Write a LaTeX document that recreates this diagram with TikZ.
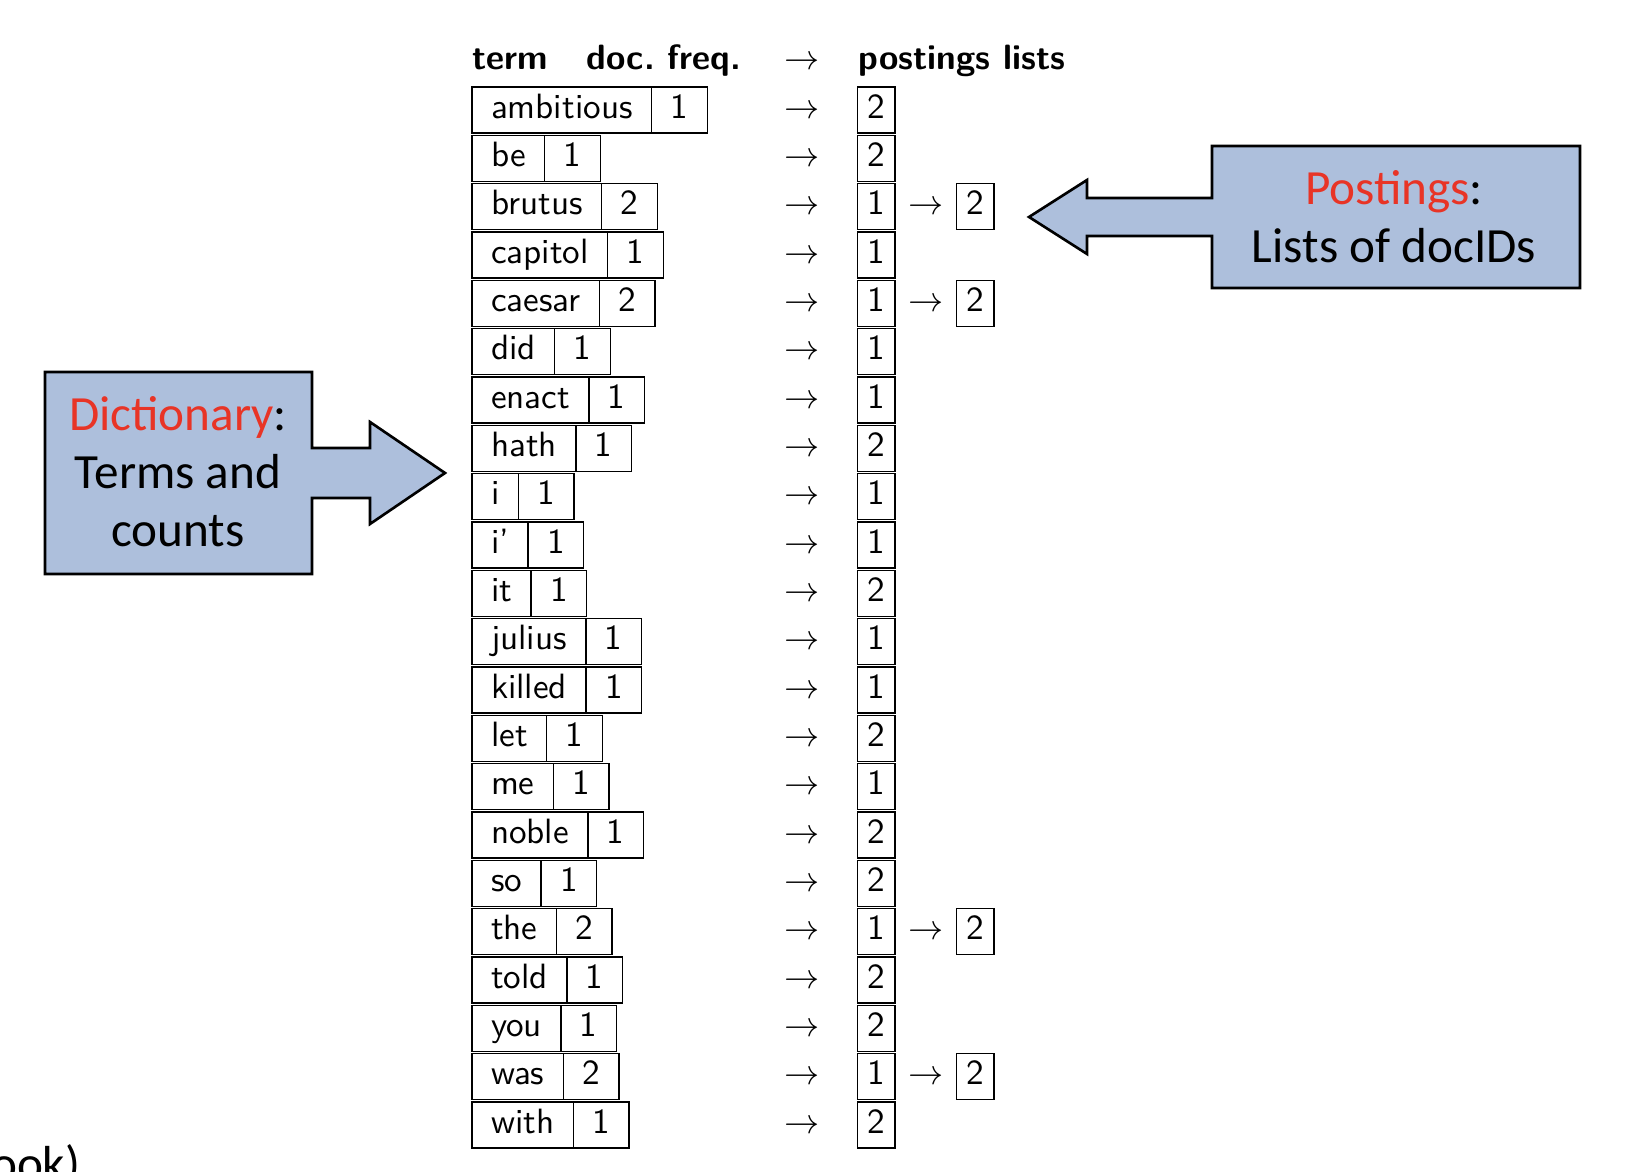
\documentclass[tikz,border=0pt]{standalone}
\usepackage{fontspec}
\newfontfamily\calloutfont{Carlito}
\usetikzlibrary{positioning}
\definecolor{calloutblue}{RGB}{173,191,220}
\definecolor{calloutred}{RGB}{232,52,38}

\begin{document}
\begin{tikzpicture}[x=0.1mm, y=-0.1mm, font=\sffamily,
	cell/.style={inner xsep=1.9mm, inner ysep=0pt, outer sep=0pt, minimum height=4.6mm, text height=6.9pt, text depth=2.2pt},
	term node/.style={cell, draw, line width=0.4pt, anchor=west},
	freq node/.style={cell, draw, line width=0.4pt},
	arrow node/.style={cell, inner xsep=0pt},
	post node/.style={cell, draw, line width=0.4pt, inner xsep=1mm},
	head node/.style={inner sep=0pt, anchor=base west, font=\sffamily\bfseries},
	callout/.style={draw=black, fill=calloutblue, line width=0.75pt, line join=miter},
	callout text/.style={align=center, inner sep=0pt, font={\calloutfont\fontsize{14pt}{16.5pt}\selectfont}}]

	\useasboundingbox (0,0) rectangle (1630,1172);
	\clip (0,0) rectangle (1630,1172);

	% header
	\node[head node] at (472, 70) (hterm) {term};
	\node[head node] at (586, 70) (hfreq) {doc.\ freq.};
	\node[head node, anchor=base] at (802, 70) (harrow) {$\rightarrow$};
	\node[head node] at (858, 70) (hpost) {postings lists};

	% dictionary and postings
	\node[term node] at (472, 110) (t1) {ambitious}; \node[freq node, right=0pt of t1] (f1) {1}; \node[arrow node] at (802, 110) (a1) {$\rightarrow$}; \node[post node] at (876, 110) (p1) {2};
	\node[term node] at (472, 158.3) (t2) {be}; \node[freq node, right=0pt of t2] (f2) {1}; \node[arrow node] at (802, 158.3) (a2) {$\rightarrow$}; \node[post node] at (876, 158.3) (p2) {2};
	\node[term node] at (472, 206.7) (t3) {brutus}; \node[freq node, right=0pt of t3] (f3) {2}; \node[arrow node] at (802, 206.7) (a3) {$\rightarrow$}; \node[post node] at (876, 206.7) (p3) {1};
	\node[arrow node] at (926, 206.7) (b3) {$\rightarrow$}; \node[post node] at (975, 206.7) (q3) {2};
	\node[term node] at (472, 255) (t4) {capitol}; \node[freq node, right=0pt of t4] (f4) {1}; \node[arrow node] at (802, 255) (a4) {$\rightarrow$}; \node[post node] at (876, 255) (p4) {1};
	\node[term node] at (472, 303.3) (t5) {caesar}; \node[freq node, right=0pt of t5] (f5) {2}; \node[arrow node] at (802, 303.3) (a5) {$\rightarrow$}; \node[post node] at (876, 303.3) (p5) {1};
	\node[arrow node] at (926, 303.3) (b5) {$\rightarrow$}; \node[post node] at (975, 303.3) (q5) {2};
	\node[term node] at (472, 351.7) (t6) {did}; \node[freq node, right=0pt of t6] (f6) {1}; \node[arrow node] at (802, 351.7) (a6) {$\rightarrow$}; \node[post node] at (876, 351.7) (p6) {1};
	\node[term node] at (472, 400) (t7) {enact}; \node[freq node, right=0pt of t7] (f7) {1}; \node[arrow node] at (802, 400) (a7) {$\rightarrow$}; \node[post node] at (876, 400) (p7) {1};
	\node[term node] at (472, 448.3) (t8) {hath}; \node[freq node, right=0pt of t8] (f8) {1}; \node[arrow node] at (802, 448.3) (a8) {$\rightarrow$}; \node[post node] at (876, 448.3) (p8) {2};
	\node[term node] at (472, 496.7) (t9) {i}; \node[freq node, right=0pt of t9] (f9) {1}; \node[arrow node] at (802, 496.7) (a9) {$\rightarrow$}; \node[post node] at (876, 496.7) (p9) {1};
	\node[term node] at (472, 545) (t10) {i'}; \node[freq node, right=0pt of t10] (f10) {1}; \node[arrow node] at (802, 545) (a10) {$\rightarrow$}; \node[post node] at (876, 545) (p10) {1};
	\node[term node] at (472, 593.3) (t11) {it}; \node[freq node, right=0pt of t11] (f11) {1}; \node[arrow node] at (802, 593.3) (a11) {$\rightarrow$}; \node[post node] at (876, 593.3) (p11) {2};
	\node[term node] at (472, 641.7) (t12) {julius}; \node[freq node, right=0pt of t12] (f12) {1}; \node[arrow node] at (802, 641.7) (a12) {$\rightarrow$}; \node[post node] at (876, 641.7) (p12) {1};
	\node[term node] at (472, 690) (t13) {killed}; \node[freq node, right=0pt of t13] (f13) {1}; \node[arrow node] at (802, 690) (a13) {$\rightarrow$}; \node[post node] at (876, 690) (p13) {1};
	\node[term node] at (472, 738.3) (t14) {let}; \node[freq node, right=0pt of t14] (f14) {1}; \node[arrow node] at (802, 738.3) (a14) {$\rightarrow$}; \node[post node] at (876, 738.3) (p14) {2};
	\node[term node] at (472, 786.7) (t15) {me}; \node[freq node, right=0pt of t15] (f15) {1}; \node[arrow node] at (802, 786.7) (a15) {$\rightarrow$}; \node[post node] at (876, 786.7) (p15) {1};
	\node[term node] at (472, 835) (t16) {noble}; \node[freq node, right=0pt of t16] (f16) {1}; \node[arrow node] at (802, 835) (a16) {$\rightarrow$}; \node[post node] at (876, 835) (p16) {2};
	\node[term node] at (472, 883.3) (t17) {so}; \node[freq node, right=0pt of t17] (f17) {1}; \node[arrow node] at (802, 883.3) (a17) {$\rightarrow$}; \node[post node] at (876, 883.3) (p17) {2};
	\node[term node] at (472, 931.7) (t18) {the}; \node[freq node, right=0pt of t18] (f18) {2}; \node[arrow node] at (802, 931.7) (a18) {$\rightarrow$}; \node[post node] at (876, 931.7) (p18) {1};
	\node[arrow node] at (926, 931.7) (b18) {$\rightarrow$}; \node[post node] at (975, 931.7) (q18) {2};
	\node[term node] at (472, 980) (t19) {told}; \node[freq node, right=0pt of t19] (f19) {1}; \node[arrow node] at (802, 980) (a19) {$\rightarrow$}; \node[post node] at (876, 980) (p19) {2};
	\node[term node] at (472, 1028.3) (t20) {you}; \node[freq node, right=0pt of t20] (f20) {1}; \node[arrow node] at (802, 1028.3) (a20) {$\rightarrow$}; \node[post node] at (876, 1028.3) (p20) {2};
	\node[term node] at (472, 1076.7) (t21) {was}; \node[freq node, right=0pt of t21] (f21) {2}; \node[arrow node] at (802, 1076.7) (a21) {$\rightarrow$}; \node[post node] at (876, 1076.7) (p21) {1};
	\node[arrow node] at (926, 1076.7) (b21) {$\rightarrow$}; \node[post node] at (975, 1076.7) (q21) {2};
	\node[term node] at (472, 1125) (t22) {with}; \node[freq node, right=0pt of t22] (f22) {1}; \node[arrow node] at (802, 1125) (a22) {$\rightarrow$}; \node[post node] at (876, 1125) (p22) {2};

	% callouts
	\draw[callout] (45,372) -- (312,372) -- (312,448) -- (370,448) -- (370,422) -- (445,473)
		-- (370,524) -- (370,498) -- (312,498) -- (312,574) -- (45,574) -- cycle;
	\node[callout text] at (178,472) (dict) {\textcolor{calloutred}{Dictionary}:\\Terms and\\counts};
	\draw[callout] (1212,146) -- (1580,146) -- (1580,288) -- (1212,288) -- (1212,236) -- (1087,236)
		-- (1087,254) -- (1029,217) -- (1087,180) -- (1087,198) -- (1212,198) -- cycle;
	\node[callout text] at (1394,217) (post) {\textcolor{calloutred}{Postings}:\\Lists of docIDs};

	\node[inner sep=0pt, anchor=base east, font={\calloutfont\fontsize{14pt}{16.5pt}\selectfont}] at (81,1180) (foot) {ook)};
\end{tikzpicture}
\end{document}
